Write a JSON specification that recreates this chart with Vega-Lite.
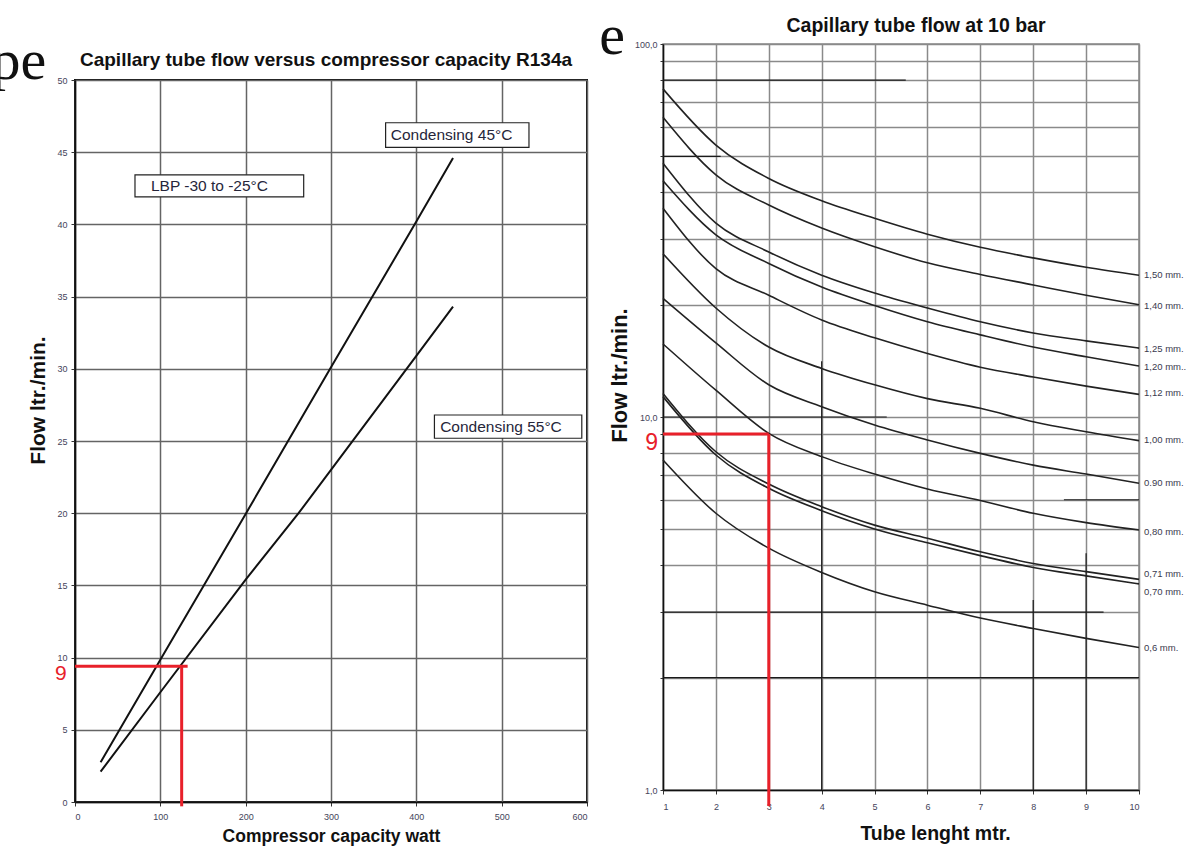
{
  "$schema": "https://vega.github.io/schema/vega-lite/v6.json",
  "background": "white",
  "padding": {"left": -10, "top": 7, "right": 5, "bottom": 5},
  "datasets": {
    "cap": [
      {"cond": "45", "W": 30, "F": 2.75},
      {"cond": "45", "W": 100, "F": 9.85},
      {"cond": "45", "W": 200, "F": 19.95},
      {"cond": "45", "W": 300, "F": 30.1},
      {"cond": "45", "W": 400, "F": 40.2},
      {"cond": "45", "W": 443, "F": 44.6},
      {"cond": "55", "W": 30, "F": 2.1},
      {"cond": "55", "W": 100, "F": 7.6},
      {"cond": "55", "W": 200, "F": 15.4},
      {"cond": "55", "W": 262, "F": 20.0},
      {"cond": "55", "W": 300, "F": 23.0},
      {"cond": "55", "W": 400, "F": 30.9},
      {"cond": "55", "W": 443, "F": 34.3}
    ],
    "redL": [
      {"x": 0, "x2": 132, "y": 9.4, "y2": 9.4},
      {"x": 125, "x2": 125, "y": 9.4, "y2": -0.3}
    ],
    "nineL": [{"x": -9.8, "y": 8.85, "t": "9"}],
    "peL": [{"x": -33.6, "y": 50.1, "t": "pe"}],
    "boxes": [
      {"t": "Condensing 45°C", "x1": 364, "x2": 532, "y1": 45.33, "y2": 47.04, "tx": 370, "ty": 46.2},
      {"t": "LBP -30 to -25°C", "x1": 70.3, "x2": 268, "y1": 41.9, "y2": 43.43, "tx": 89, "ty": 42.67},
      {"t": "Condensing 55°C", "x1": 421.2, "x2": 593.9, "y1": 25.19, "y2": 26.8, "tx": 427.9, "ty": 25.99}
    ],
    "tube": [
      {"d": "1,50", "L": 1, "F": 75.8}, {"d": "1,50", "L": 2, "F": 53.6}, {"d": "1,50", "L": 3, "F": 43.6}, {"d": "1,50", "L": 4, "F": 38.0}, {"d": "1,50", "L": 5, "F": 34.1}, {"d": "1,50", "L": 6, "F": 30.9}, {"d": "1,50", "L": 7, "F": 28.5}, {"d": "1,50", "L": 8, "F": 26.7}, {"d": "1,50", "L": 9, "F": 25.2}, {"d": "1,50", "L": 10, "F": 24.0},
      {"d": "1,40", "L": 1, "F": 63.6}, {"d": "1,40", "L": 2, "F": 44.6}, {"d": "1,40", "L": 3, "F": 37.0}, {"d": "1,40", "L": 4, "F": 32.1}, {"d": "1,40", "L": 5, "F": 28.6}, {"d": "1,40", "L": 6, "F": 25.9}, {"d": "1,40", "L": 7, "F": 24.1}, {"d": "1,40", "L": 8, "F": 22.6}, {"d": "1,40", "L": 9, "F": 21.2}, {"d": "1,40", "L": 10, "F": 20.0},
      {"d": "1,25", "L": 1, "F": 47.9}, {"d": "1,25", "L": 2, "F": 33.1}, {"d": "1,25", "L": 3, "F": 27.7}, {"d": "1,25", "L": 4, "F": 24.0}, {"d": "1,25", "L": 5, "F": 21.5}, {"d": "1,25", "L": 6, "F": 19.6}, {"d": "1,25", "L": 7, "F": 18.0}, {"d": "1,25", "L": 8, "F": 16.8}, {"d": "1,25", "L": 9, "F": 16.0}, {"d": "1,25", "L": 10, "F": 15.3},
      {"d": "1,20", "L": 1, "F": 43.0}, {"d": "1,20", "L": 2, "F": 30.8}, {"d": "1,20", "L": 3, "F": 25.8}, {"d": "1,20", "L": 4, "F": 22.3}, {"d": "1,20", "L": 5, "F": 19.9}, {"d": "1,20", "L": 6, "F": 18.0}, {"d": "1,20", "L": 7, "F": 16.6}, {"d": "1,20", "L": 8, "F": 15.4}, {"d": "1,20", "L": 9, "F": 14.5}, {"d": "1,20", "L": 10, "F": 13.7},
      {"d": "1,12", "L": 1, "F": 36.3}, {"d": "1,12", "L": 2, "F": 25.0}, {"d": "1,12", "L": 3, "F": 21.2}, {"d": "1,12", "L": 4, "F": 18.2}, {"d": "1,12", "L": 5, "F": 16.3}, {"d": "1,12", "L": 6, "F": 14.8}, {"d": "1,12", "L": 7, "F": 13.6}, {"d": "1,12", "L": 8, "F": 12.8}, {"d": "1,12", "L": 9, "F": 12.1}, {"d": "1,12", "L": 10, "F": 11.5},
      {"d": "1,00", "L": 1, "F": 27.4}, {"d": "1,00", "L": 2, "F": 19.6}, {"d": "1,00", "L": 3, "F": 15.4}, {"d": "1,00", "L": 4, "F": 13.5}, {"d": "1,00", "L": 5, "F": 12.2}, {"d": "1,00", "L": 6, "F": 11.2}, {"d": "1,00", "L": 7, "F": 10.55}, {"d": "1,00", "L": 8, "F": 9.71}, {"d": "1,00", "L": 9, "F": 9.13}, {"d": "1,00", "L": 10, "F": 8.64},
      {"d": "0,90", "L": 1, "F": 20.8}, {"d": "0,90", "L": 2, "F": 15.8}, {"d": "0,90", "L": 3, "F": 12.2}, {"d": "0,90", "L": 4, "F": 10.66}, {"d": "0,90", "L": 5, "F": 9.52}, {"d": "0,90", "L": 6, "F": 8.68}, {"d": "0,90", "L": 7, "F": 7.99}, {"d": "0,90", "L": 8, "F": 7.43}, {"d": "0,90", "L": 9, "F": 7.03}, {"d": "0,90", "L": 10, "F": 6.64},
      {"d": "0,80", "L": 1, "F": 15.7}, {"d": "0,80", "L": 2, "F": 11.8}, {"d": "0,80", "L": 3, "F": 9.04}, {"d": "0,80", "L": 4, "F": 7.83}, {"d": "0,80", "L": 5, "F": 7.03}, {"d": "0,80", "L": 6, "F": 6.41}, {"d": "0,80", "L": 7, "F": 5.97}, {"d": "0,80", "L": 8, "F": 5.52}, {"d": "0,80", "L": 9, "F": 5.21}, {"d": "0,80", "L": 10, "F": 4.98},
      {"d": "0,71", "L": 1, "F": 11.57}, {"d": "0,71", "L": 2, "F": 8.07}, {"d": "0,71", "L": 3, "F": 6.61}, {"d": "0,71", "L": 4, "F": 5.75}, {"d": "0,71", "L": 5, "F": 5.13}, {"d": "0,71", "L": 6, "F": 4.73}, {"d": "0,71", "L": 7, "F": 4.35}, {"d": "0,71", "L": 8, "F": 4.05}, {"d": "0,71", "L": 9, "F": 3.85}, {"d": "0,71", "L": 10, "F": 3.67},
      {"d": "0,70", "L": 1, "F": 11.34}, {"d": "0,70", "L": 2, "F": 7.91}, {"d": "0,70", "L": 3, "F": 6.44}, {"d": "0,70", "L": 4, "F": 5.61}, {"d": "0,70", "L": 5, "F": 5.01}, {"d": "0,70", "L": 6, "F": 4.60}, {"d": "0,70", "L": 7, "F": 4.25}, {"d": "0,70", "L": 8, "F": 3.95}, {"d": "0,70", "L": 9, "F": 3.75}, {"d": "0,70", "L": 10, "F": 3.57},
      {"d": "0,6", "L": 1, "F": 7.67}, {"d": "0,6", "L": 2, "F": 5.52}, {"d": "0,6", "L": 3, "F": 4.45}, {"d": "0,6", "L": 4, "F": 3.83}, {"d": "0,6", "L": 5, "F": 3.40}, {"d": "0,6", "L": 6, "F": 3.13}, {"d": "0,6", "L": 7, "F": 2.89}, {"d": "0,6", "L": 8, "F": 2.71}, {"d": "0,6", "L": 9, "F": 2.55}, {"d": "0,6", "L": 10, "F": 2.41}
    ],
    "tubeLabels": [
      {"t": "1,50 mm.", "L": 10, "F": 24.0},
      {"t": "1,40 mm.", "L": 10, "F": 19.8},
      {"t": "1,25 mm.", "L": 10, "F": 15.2},
      {"t": "1,20 mm..", "L": 10, "F": 13.6},
      {"t": "1,12 mm.", "L": 10, "F": 11.6},
      {"t": "1,00 mm.", "L": 10, "F": 8.68},
      {"t": "0.90 mm.", "L": 10, "F": 6.65},
      {"t": "0,80 mm.", "L": 10, "F": 4.92},
      {"t": "0,71 mm.", "L": 10, "F": 3.79},
      {"t": "0,70 mm.", "L": 10, "F": 3.40},
      {"t": "0,6 mm.", "L": 10, "F": 2.40}
    ],
    "darkR": [
      {"x": 1, "x2": 5.59, "y": 80, "y2": 80},
      {"x": 1, "x2": 2.09, "y": 50, "y2": 50},
      {"x": 1, "x2": 5.23, "y": 10, "y2": 10},
      {"x": 1, "x2": 9.33, "y": 3, "y2": 3},
      {"x": 1, "x2": 10, "y": 2, "y2": 2},
      {"x": 8.58, "x2": 10, "y": 6, "y2": 6},
      {"x": 4, "x2": 4, "y": 14.1, "y2": 1},
      {"x": 8, "x2": 8, "y": 3.23, "y2": 1},
      {"x": 9, "x2": 9, "y": 4.31, "y2": 1}
    ],
    "redR": [
      {"x": 1, "x2": 3, "y": 9, "y2": 9},
      {"x": 3, "x2": 3, "y": 9, "y2": 0.906}
    ],
    "nineR": [{"x": 0.905, "y": 8.52, "t": "9"}],
    "eR": [{"x": 0.2815, "y": 94.0, "t": "e"}]
  },
  "config": {
    "font": "Liberation Sans",
    "axis": {
      "labelFont": "Liberation Sans",
      "titleFont": "Liberation Sans",
      "labelFontSize": 9,
      "labelColor": "#44445a",
      "titleFontSize": 17,
      "titleFontWeight": "bold",
      "titleColor": "#111111",
      "gridColor": "#646464",
      "gridWidth": 1.5,
      "gridOpacity": 1,
      "domainColor": "#111111",
      "domainWidth": 1.5,
      "tickColor": "#333333",
      "tickSize": 4,
      "labelOverlap": false
    },
    "title": {"font": "Liberation Sans", "fontSize": 19, "fontWeight": "bold", "color": "#111111"}
  },
  "spacing": 9,
  "hconcat": [
    {
      "spacing": 20,
      "bounds": "flush",
      "vconcat": [
        {
          "width": 512,
          "height": 16,
          "data": {"values": [{}]},
          "mark": {"type": "text"},
          "encoding": {"text": {"value": ""}},
          "view": {"stroke": null}
        },
        {
          "width": 512,
          "height": 722,
          "view": {"stroke": "#111111", "strokeWidth": 2},
          "title": {"text": "Capillary tube flow versus compressor capacity R134a", "fontSize": 19, "dx": -5, "offset": -37},
          "layer": [
            {
              "data": {"name": "cap"},
              "mark": {"type": "line", "color": "#111111", "strokeWidth": 2},
              "encoding": {
                "x": {
                  "field": "W", "type": "quantitative",
                  "scale": {"domain": [0, 600]},
                  "axis": {"title": "Compressor capacity watt", "titleFontSize": 17.5, "values": [0, 100, 200, 300, 400, 500, 600], "labelPadding": 6, "titlePadding": 6}
                },
                "y": {
                  "field": "F", "type": "quantitative",
                  "scale": {"domain": [0, 50]},
                  "axis": {"title": "Flow ltr./min.", "titleFontSize": 21, "values": [0, 5, 10, 15, 20, 25, 30, 35, 40, 45, 50], "labelPadding": 4, "titlePadding": 8, "titleY": 320}
                },
                "detail": {"field": "cond"}
              }
            },
            {
              "data": {"name": "redL"},
              "mark": {"type": "rule", "color": "#e8202a", "strokeWidth": 3, "clip": false},
              "encoding": {
                "x": {"field": "x", "type": "quantitative"},
                "x2": {"field": "x2"},
                "y": {"field": "y", "type": "quantitative"},
                "y2": {"field": "y2"}
              }
            },
            {
              "data": {"name": "nineL"},
              "mark": {"type": "text", "color": "#e8202a", "fontSize": 21, "align": "right", "baseline": "middle", "clip": false},
              "encoding": {
                "x": {"field": "x", "type": "quantitative"},
                "y": {"field": "y", "type": "quantitative"},
                "text": {"field": "t"}
              }
            },
            {
              "data": {"name": "peL"},
              "mark": {"type": "text", "color": "#111111", "font": "Liberation Serif", "fontSize": 58, "align": "right", "baseline": "alphabetic", "clip": false},
              "encoding": {
                "x": {"field": "x", "type": "quantitative"},
                "y": {"field": "y", "type": "quantitative"},
                "text": {"field": "t"}
              }
            },
            {
              "data": {"name": "boxes"},
              "mark": {"type": "rect", "fill": "white", "stroke": "#222222", "strokeWidth": 1.2},
              "encoding": {
                "x": {"field": "x1", "type": "quantitative"},
                "x2": {"field": "x2"},
                "y": {"field": "y1", "type": "quantitative"},
                "y2": {"field": "y2"}
              }
            },
            {
              "data": {"name": "boxes"},
              "mark": {"type": "text", "align": "left", "baseline": "middle", "color": "#26263a", "fontSize": 15.5},
              "encoding": {
                "x": {"field": "tx", "type": "quantitative"},
                "y": {"field": "ty", "type": "quantitative"},
                "text": {"field": "t"}
              }
            }
          ]
        }
      ]
    },
    {
      "width": 476,
      "height": 746,
      "view": {"stroke": "#888888", "strokeWidth": 1.5},
      "title": {"text": "Capillary tube flow at 10 bar", "fontSize": 19.5, "dx": 15, "offset": -28},
      "layer": [
        {
          "data": {"name": "darkR"},
          "mark": {"type": "rule", "color": "#1a1a1a", "strokeWidth": 1.2},
          "encoding": {
            "x": {"field": "x", "type": "quantitative", "scale": {"domain": [1, 10]}},
            "x2": {"field": "x2"},
            "y": {"field": "y", "type": "quantitative", "scale": {"type": "log", "domain": [1, 100]}},
            "y2": {"field": "y2"}
          }
        },
        {
          "data": {"name": "tube"},
          "mark": {"type": "line", "color": "#222222", "strokeWidth": 1.6, "interpolate": "monotone"},
          "encoding": {
            "x": {
              "field": "L", "type": "quantitative",
              "scale": {"domain": [1, 10]},
              "axis": {"title": "Tube lenght mtr.", "titleFontSize": 19.5, "values": [1, 2, 3, 4, 5, 6, 7, 8, 9, 10], "labelPadding": 8, "titlePadding": 13, "titleX": 272, "gridColor": "#8a8a8a"}
            },
            "y": {
              "field": "F", "type": "quantitative",
              "scale": {"type": "log", "domain": [1, 100]},
              "axis": {
                "title": "Flow ltr./min.",
                "titleFontSize": 22,
                "values": [1, 2, 3, 4, 5, 6, 7, 8, 9, 10, 20, 30, 40, 50, 60, 70, 80, 90, 100],
                "labelExpr": "datum.value == 1 ? '1,0' : datum.value == 10 ? '10,0' : datum.value == 100 ? '100,0' : ''",
                "tickSize": 3, "labelPadding": 3, "titlePadding": 3, "titleY": 331, "gridColor": "#8a8a8a"
              }
            },
            "detail": {"field": "d"}
          }
        },
        {
          "data": {"name": "tubeLabels"},
          "mark": {"type": "text", "align": "left", "baseline": "middle", "dx": 5, "fontSize": 9.5, "color": "#3a3a4e"},
          "encoding": {
            "x": {"field": "L", "type": "quantitative"},
            "y": {"field": "F", "type": "quantitative"},
            "text": {"field": "t"}
          }
        },
        {
          "data": {"name": "redR"},
          "mark": {"type": "rule", "color": "#e8202a", "strokeWidth": 3, "clip": false},
          "encoding": {
            "x": {"field": "x", "type": "quantitative"},
            "x2": {"field": "x2"},
            "y": {"field": "y", "type": "quantitative"},
            "y2": {"field": "y2"}
          }
        },
        {
          "data": {"name": "nineR"},
          "mark": {"type": "text", "color": "#e8202a", "fontSize": 23, "align": "right", "baseline": "middle", "clip": false},
          "encoding": {
            "x": {"field": "x", "type": "quantitative"},
            "y": {"field": "y", "type": "quantitative"},
            "text": {"field": "t"}
          }
        },
        {
          "data": {"name": "eR"},
          "mark": {"type": "text", "color": "#111111", "font": "Liberation Serif", "fontSize": 58, "align": "right", "baseline": "alphabetic", "clip": false},
          "encoding": {
            "x": {"field": "x", "type": "quantitative"},
            "y": {"field": "y", "type": "quantitative"},
            "text": {"field": "t"}
          }
        }
      ]
    }
  ]
}
